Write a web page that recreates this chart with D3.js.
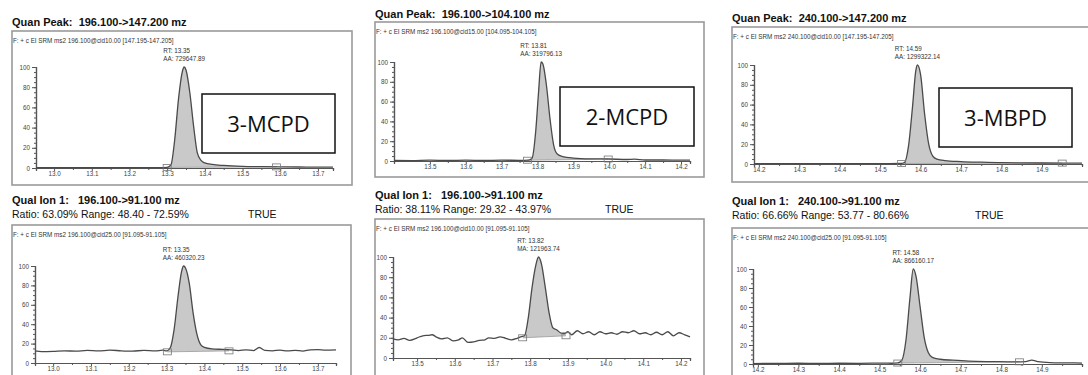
<!DOCTYPE html>
<html>
<head>
<meta charset="utf-8">
<script src="https://cdn.jsdelivr.net/npm/d3@7/dist/d3.min.js"></script>
<style>
  body { margin: 0; background: #fff; }
  svg { display: block; font-family: "Liberation Sans", Arial, sans-serif; }
  .ttl { font-weight: bold; font-size: 11px; fill: #111; white-space: pre; }
  .rat { font-size: 10.5px; fill: #111; white-space: pre; }
  .hdr { font-size: 6.3px; fill: #333; }
  .pk { font-size: 6.3px; fill: #333; }
  .axis text { font-size: 6.3px; fill: #444; font-family: "Liberation Sans", Arial, sans-serif; }
  .axis path, .axis line { stroke: #555; }
  .lbl { font-family: "Open Sans", sans-serif; font-size: 22px; fill: #111; }
</style>
</head>
<body>
<div id="chart"></div>
<script>
const width = 1088;
const height = 375;

// chromatogram traces [retention time (min), relative abundance %]
const quan3MCPD = [[12.952,0.3],[13.0,0.3],[13.1,0.3],[13.2,0.4],[13.28,0.4],[13.30,0.6],[13.31,3],[13.32,28],
  [13.33,68],[13.34,95],[13.345,100],[13.35,97],[13.36,75],[13.37,42],[13.38,15],[13.39,7.5],[13.40,5],
  [13.42,3.5],[13.45,2.5],[13.50,1.6],[13.55,1.3],[13.60,1.1],[13.65,1],[13.70,0.8],[13.74,0.8]];
const quan2MCPD = [[13.40,0.5],[13.45,0.4],[13.50,0.8],[13.55,0.5],[13.60,0.9],[13.65,0.5],[13.70,0.9],[13.75,0.6],
  [13.775,0.8],[13.785,3],[13.795,30],[13.803,70],[13.81,100],[13.815,98],[13.825,76],[13.835,42],[13.845,16],
  [13.855,7],[13.87,4.5],[13.90,3],[13.95,2.2],[14.0,2],[14.05,1.5],[14.07,1.8],[14.10,1],[14.15,1],[14.20,0.8],[14.225,0.8]];
const quan3MBPD = [[14.188,0.3],[14.3,0.3],[14.4,0.4],[14.5,0.4],[14.55,0.5],[14.56,1.5],[14.57,18],[14.58,58],
  [14.588,94],[14.592,100],[14.60,90],[14.61,50],[14.62,20],[14.63,8],[14.64,5],[14.66,3.5],[14.70,2.5],
  [14.75,1.8],[14.80,1.3],[14.90,1],[14.999,0.8]];
const qual3MCPD = [[12.952,12.5],[12.97,11.8],[13.0,12],[13.03,12.5],[13.06,12.2],[13.09,13],[13.12,12.5],[13.15,13.2],
  [13.18,12.6],[13.21,12.3],[13.24,13],[13.27,12.4],[13.29,13.2],[13.30,12.5],[13.31,16],[13.32,35],[13.33,68],
  [13.34,95],[13.345,100],[13.35,98],[13.36,82],[13.37,52],[13.38,30],[13.39,19],[13.40,16],[13.42,14.5],
  [13.45,14],[13.47,13.5],[13.49,12.8],[13.51,13.6],[13.53,12.8],[13.545,16],[13.56,13],[13.58,12.6],[13.60,13.3],
  [13.62,12.4],[13.64,13],[13.66,12.3],[13.68,13.6],[13.70,13.8],[13.72,13.2],[13.748,13.5]];
const qual2MCPD = [[13.436,19],[13.45,18],[13.465,19.5],[13.48,17.5],[13.50,20],[13.515,22],[13.53,22.5],[13.54,23],
  [13.55,21],[13.565,19],[13.58,20],[13.595,17],[13.61,18],[13.62,20],[13.635,15.5],[13.65,16],[13.665,17.5],
  [13.68,18],[13.69,20],[13.705,19.5],[13.72,21],[13.735,19.5],[13.75,18],[13.765,19.5],[13.775,21],[13.785,22],
  [13.795,40],[13.805,70],[13.815,92],[13.822,100],[13.83,93],[13.84,70],[13.85,45],[13.86,30],[13.87,28],
  [13.88,25],[13.89,24],[13.90,26],[13.91,23],[13.925,27],[13.94,24],[13.955,26],[13.97,23],[13.985,26],[14.0,24],
  [14.015,25],[14.03,23.5],[14.045,26],[14.06,25],[14.075,27],[14.09,24],[14.105,25],[14.12,23],[14.135,25.5],
  [14.15,23],[14.165,26],[14.18,22],[14.195,25],[14.21,23],[14.224,21]];
const qual3MBPD = [[14.188,0.5],[14.25,0.6],[14.30,0.8],[14.35,0.6],[14.40,0.8],[14.45,0.7],[14.50,0.9],[14.53,0.8],
  [14.545,1.2],[14.555,4],[14.565,25],[14.575,70],[14.583,100],[14.59,92],[14.60,60],[14.61,28],[14.62,12],
  [14.63,7],[14.65,5],[14.68,4],[14.72,3],[14.78,2.5],[14.83,2.2],[14.86,2.5],[14.875,4],[14.89,2.5],[14.92,1.5],
  [14.96,1.2],[14.999,1]];

// integration start / end markers [time, level]
const quan3MCPDInt = [[13.30,0.6],[13.59,1.1]];
const quan2MCPDInt = [[13.772,0.8],[13.997,2]];
const quan3MBPDInt = [[14.553,0.5],[14.95,0.9]];
const qual3MCPDInt = [[13.302,11.5],[13.465,12.5]];
const qual2MCPDInt = [[13.78,20],[13.895,22]];
const qual3MBPDInt = [[14.545,1],[14.845,2.3]];

const yTicks = [0, 20, 40, 60, 80, 100];

const panels = [
  { title: 'Quan Peak:  196.100->147.200 mz', ratio: null,
    filter: 'F: + c EI SRM ms2 196.100@cid10.00 [147.195-147.205]',
    rt: 'RT: 13.35', area: 'AA: 729647.89', name: '3-MCPD',
    data: quan3MCPD, integ: quan3MCPDInt, domain: [12.952, 13.74], ticks: d3.range(13.0, 13.75, 0.1),
    titleY: 26, frame: [12, 31, 340, 154], xr: [36, 333], yr: [168, 67], box: [202, 94, 133, 59] },
  { title: 'Quan Peak:  196.100->104.100 mz', ratio: null,
    filter: 'F: + c EI SRM ms2 196.100@cid15.00 [104.095-104.105]',
    rt: 'RT: 13.81', area: 'AA: 319796.13', name: '2-MCPD',
    data: quan2MCPD, integ: quan2MCPDInt, domain: [13.40, 14.225], ticks: d3.range(13.5, 14.25, 0.1),
    titleY: 18, frame: [375, 22, 329, 155], xr: [394, 690], yr: [161, 62], box: [560, 87, 134, 59] },
  { title: 'Quan Peak:  240.100->147.200 mz', ratio: null,
    filter: 'F: + c EI SRM ms2 240.100@cid10.00 [147.195-147.205]',
    rt: 'RT: 14.59', area: 'AA: 1299322.14', name: '3-MBPD',
    data: quan3MBPD, integ: quan3MBPDInt, domain: [14.188, 14.999], ticks: d3.range(14.2, 14.95, 0.1),
    titleY: 22, frame: [732, 27, 400, 155], xr: [754, 1082], yr: [164, 65], box: [939, 88, 133, 59] },
  { title: 'Qual Ion 1:   196.100->91.100 mz', ratio: 'Ratio: 63.09% Range: 48.40 - 72.59%', trueX: 248,
    filter: 'F: + c EI SRM ms2 196.100@cid25.00 [91.095-91.105]',
    rt: 'RT: 13.35', area: 'AA: 460320.23', name: null,
    data: qual3MCPD, integ: qual3MCPDInt, domain: [12.952, 13.748], ticks: d3.range(13.0, 13.75, 0.1),
    titleY: 204, frame: [12, 225, 339, 200], xr: [35, 336], yr: [363, 266] },
  { title: 'Qual Ion 1:   196.100->91.100 mz', ratio: 'Ratio: 38.11% Range: 29.32 - 43.97%', trueX: 605,
    filter: 'F: + c EI SRM ms2 196.100@cid10.00 [91.095-91.105]',
    rt: 'RT: 13.82', area: 'MA: 121963.74', name: null,
    data: qual2MCPD, integ: qual2MCPDInt, domain: [13.436, 14.224], ticks: d3.range(13.5, 14.25, 0.1),
    titleY: 199, frame: [375, 219, 329, 200], xr: [393, 690], yr: [358, 257] },
  { title: 'Qual Ion 1:   240.100->91.100 mz', ratio: 'Ratio: 66.66% Range: 53.77 - 80.66%', trueX: 975,
    filter: 'F: + c EI SRM ms2 240.100@cid25.00 [91.095-91.105]',
    rt: 'RT: 14.58', area: 'AA: 866160.17', name: null,
    data: qual3MBPD, integ: qual3MBPDInt, domain: [14.188, 14.999], ticks: d3.range(14.2, 14.95, 0.1),
    titleY: 205, frame: [732, 228, 400, 200], xr: [753, 1082], yr: [364, 269] }
];

const svg = d3.select('#chart').append('svg')
  .attr('width', width)
  .attr('height', height);

panels.forEach(p => {
  const g = svg.append('g');

  g.append('text').attr('class', 'ttl')
    .attr('x', p.frame[0]).attr('y', p.titleY).text(p.title);
  if (p.ratio) {
    g.append('text').attr('class', 'rat')
      .attr('x', p.frame[0]).attr('y', p.titleY + 14).text(p.ratio);
    g.append('text').attr('class', 'rat')
      .attr('x', p.trueX).attr('y', p.titleY + 14).text('TRUE');
  }

  g.append('rect')
    .attr('x', p.frame[0]).attr('y', p.frame[1])
    .attr('width', p.frame[2]).attr('height', p.frame[3])
    .attr('fill', 'none').attr('stroke', '#9a9a9a').attr('stroke-width', 1.6);

  g.append('text').attr('class', 'hdr')
    .attr('x', p.frame[0] + 1).attr('y', p.frame[1] + 12).text(p.filter);

  const x = d3.scaleLinear().domain(p.domain).range(p.xr);
  const y = d3.scaleLinear().domain([0, 100]).range(p.yr);

  // integrated area between the two markers
  const [a, b] = p.integ;
  const base = t => a[1] + (b[1] - a[1]) * (t - a[0]) / (b[0] - a[0]);
  const seg = p.data.filter(d => d[0] > a[0] && d[0] < b[0]);
  const interp = t => {
    const i = d3.bisector(d => d[0]).left(p.data, t);
    const d0 = p.data[Math.max(0, i - 1)], d1 = p.data[Math.min(p.data.length - 1, i)];
    if (d1[0] === d0[0]) return d0[1];
    return d0[1] + (d1[1] - d0[1]) * (t - d0[0]) / (d1[0] - d0[0]);
  };
  const fillPts = [[a[0], a[1]]].concat(seg, [[b[0], interp(b[0])]]);
  g.append('path')
    .datum(fillPts)
    .attr('fill', '#c9c9c9')
    .attr('d', d3.area().curve(d3.curveMonotoneX)
      .x(d => x(d[0])).y0(d => y(base(d[0]))).y1(d => y(Math.max(d[1], base(d[0])))));
  g.append('line')
    .attr('x1', x(a[0])).attr('y1', y(a[1]))
    .attr('x2', x(b[0])).attr('y2', y(b[1]))
    .attr('stroke', '#999').attr('stroke-width', 0.8);

  // axes
  g.append('g').attr('class', 'axis')
    .attr('transform', `translate(0,${p.yr[0]})`)
    .call(d3.axisBottom(x).tickValues(p.ticks).tickFormat(d3.format('.1f')).tickSize(3).tickPadding(1));
  const minorX = p.ticks.map(t => t + 0.05).filter(t => t < p.domain[1]);
  g.append('g').attr('class', 'axis')
    .attr('transform', `translate(0,${p.yr[0]})`)
    .call(d3.axisBottom(x).tickValues(minorX).tickFormat('').tickSize(2));
  g.append('g').attr('class', 'axis')
    .attr('transform', `translate(${p.xr[0]},0)`)
    .call(d3.axisLeft(y).tickValues(yTicks).tickSize(4).tickPadding(2));
  g.append('g').attr('class', 'axis')
    .attr('transform', `translate(${p.xr[0]},0)`)
    .call(d3.axisLeft(y).tickValues(d3.range(0, 101, 5)).tickFormat('').tickSize(2));
  g.selectAll('.axis .domain').attr('stroke-width', 1.2);

  // trace
  g.append('path')
    .datum(p.data)
    .attr('fill', 'none')
    .attr('stroke', '#4a4a4a')
    .attr('stroke-width', 1.3)
    .attr('d', d3.line().curve(d3.curveMonotoneX).x(d => x(d[0])).y(d => y(d[1])));

  // integration markers
  g.selectAll('rect.mk').data(p.integ).join('rect')
    .attr('class', 'mk')
    .attr('x', d => x(d[0]) - 4).attr('y', d => y(d[1]) - 3)
    .attr('width', 8).attr('height', 6)
    .attr('fill', 'none').attr('stroke', '#777').attr('stroke-width', 0.8);

  // peak annotation
  const top = p.data.reduce((m, d) => d[1] > m[1] ? d : m);
  const aa = g.append('text').attr('class', 'pk')
    .attr('y', y(100) - 6).text(p.area);
  const w = aa.node().getComputedTextLength();
  aa.attr('x', x(top[0]) - w / 2);
  g.append('text').attr('class', 'pk')
    .attr('x', x(top[0]) - w / 2).attr('y', y(100) - 14).text(p.rt);

  if (p.name) {
    g.append('rect')
      .attr('x', p.box[0]).attr('y', p.box[1])
      .attr('width', p.box[2]).attr('height', p.box[3])
      .attr('fill', '#fff').attr('stroke', '#111').attr('stroke-width', 1.5);
    g.append('text').attr('class', 'lbl')
      .attr('x', p.box[0] + p.box[2] / 2).attr('y', p.box[1] + p.box[3] / 2 + 8)
      .attr('text-anchor', 'middle').text(p.name);
  }
});
</script>
</body>
</html>
